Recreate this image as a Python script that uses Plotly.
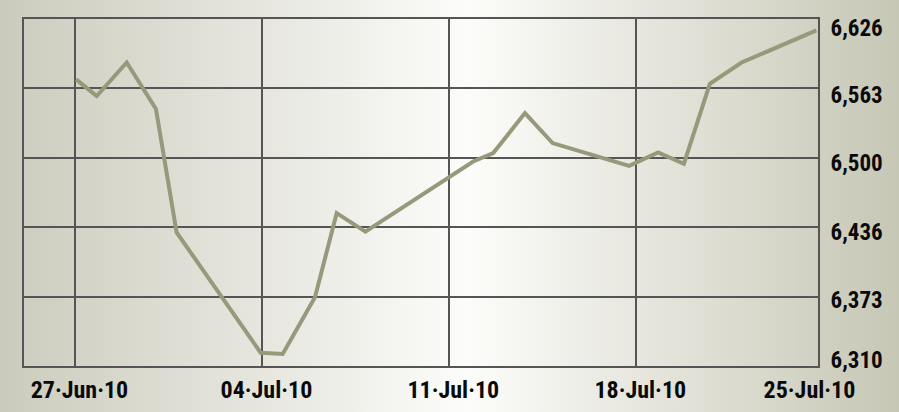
import base64
import plotly.graph_objects as go

# ---- data ----
dates = ["2010-06-27 01:00", "2010-06-27 19:30", "2010-06-28 22:30", "2010-06-30 00:45",
         "2010-06-30 19:20", "2010-07-03 22:50", "2010-07-04 18:40", "2010-07-05 23:40",
         "2010-07-06 19:10", "2010-07-07 21:00", "2010-07-11 21:50", "2010-07-12 15:50",
         "2010-07-13 20:20", "2010-07-14 21:10", "2010-07-17 18:00", "2010-07-18 20:00",
         "2010-07-19 19:10", "2010-07-20 18:30", "2010-07-21 23:00", "2010-07-24 18:15"]
values = [6571.0, 6555.8, 6586.4, 6544.0, 6431.7, 6322.1, 6321.0, 6372.6, 6449.2, 6432.4,
          6496.2, 6503.9, 6540.3, 6513.0, 6492.3, 6504.4, 6494.1, 6567.0, 6586.4, 6615.6]

x_range = ["2010-06-25 02:11", "2010-07-24 19:42"]
week_start = "2010-06-27"                       # weekly grid lines (Sundays)
x_label_at = ["2010-06-27 04:00", "2010-07-04 04:00", "2010-07-11 04:00",
              "2010-07-18 04:00", "2010-07-24 12:00"]
x_ticktext = ["27\u00b7Jun\u00b710", "04\u00b7Jul\u00b710", "11\u00b7Jul\u00b710",
              "18\u00b7Jul\u00b710", "25\u00b7Jul\u00b710"]

y_range = [6310, 6626]
y_grid_step = 63.2                              # grid lines 6310, 6373.2, ... 6626
y_grid_vals = [6310, 6373.2, 6436.4, 6499.6, 6562.8, 6626]
y_label_at = [6315.3, 6370.0, 6431.9, 6494.8, 6556.7, 6617.8]   # where the labels sit
y_ticktext = [f"{round(v):,}" for v in y_grid_vals]

# ---- layout geometry ----
W, H = 899, 412
ML, MR, MT, MB = 24, 81, 19, 46
PW, PH = W - ML - MR, H - MT - MB

svg = f"""<svg xmlns='http://www.w3.org/2000/svg' width='{W}' height='{H}' preserveAspectRatio='none'>
<defs><linearGradient id='g' x1='0' y1='0' x2='1' y2='0'>
<stop offset='0' stop-color='#cbcbbd'/>
<stop offset='0.52' stop-color='#fcfcfa'/>
<stop offset='1' stop-color='#c7c7b6'/>
</linearGradient></defs>
<rect width='{W}' height='{H}' fill='url(#g)'/></svg>"""
bg_src = "data:image/svg+xml;base64," + base64.b64encode(svg.encode()).decode()

FONT = "Roboto Condensed, DejaVu Sans Condensed, sans-serif"
GRID = "#555555"

fig = go.Figure()
fig.add_trace(go.Scatter(x=dates, y=values, mode="lines",
                         line=dict(color="#98987a", width=4), hoverinfo="skip"))

fig.update_layout(
    width=W, height=H,
    margin=dict(l=ML, r=MR, t=MT, b=MB, autoexpand=False),
    paper_bgcolor="#e6e6de",
    plot_bgcolor="rgba(0,0,0,0)",
    showlegend=False,
    images=[dict(source=bg_src, xref="paper", yref="paper",
                 x=-ML / PW, y=1 + MT / PH, sizex=W / PW, sizey=H / PH,
                 xanchor="left", yanchor="top", sizing="stretch", layer="below")],
)
fig.update_xaxes(type="date", range=x_range, tickvals=x_label_at, ticktext=x_ticktext,
                 showgrid=False, automargin=False,
                 minor=dict(tick0=week_start, dtick=7 * 86400000, showgrid=True,
                            gridcolor=GRID, gridwidth=2, ticks=""),
                 showline=True, linecolor=GRID, linewidth=2, mirror=True,
                 ticks="", zeroline=False, ticklabelstandoff=1,
                 tickfont=dict(family=FONT, size=24, color="#0a0a0a", weight="bold"))
fig.update_yaxes(range=y_range, tickvals=y_label_at, ticktext=y_ticktext, side="right",
                 showgrid=False, automargin=False,
                 minor=dict(tick0=y_grid_vals[0], dtick=y_grid_step, showgrid=True,
                            gridcolor=GRID, gridwidth=2, ticks=""),
                 showline=True, linecolor=GRID, linewidth=2, mirror=True,
                 ticks="", zeroline=False, ticklabelstandoff=6,
                 tickfont=dict(family=FONT, size=23, color="#0a0a0a", weight="bold"))

fig.write_html("out.html", config={"displayModeBar": False},
               post_script="document.body.style.margin='0';")
